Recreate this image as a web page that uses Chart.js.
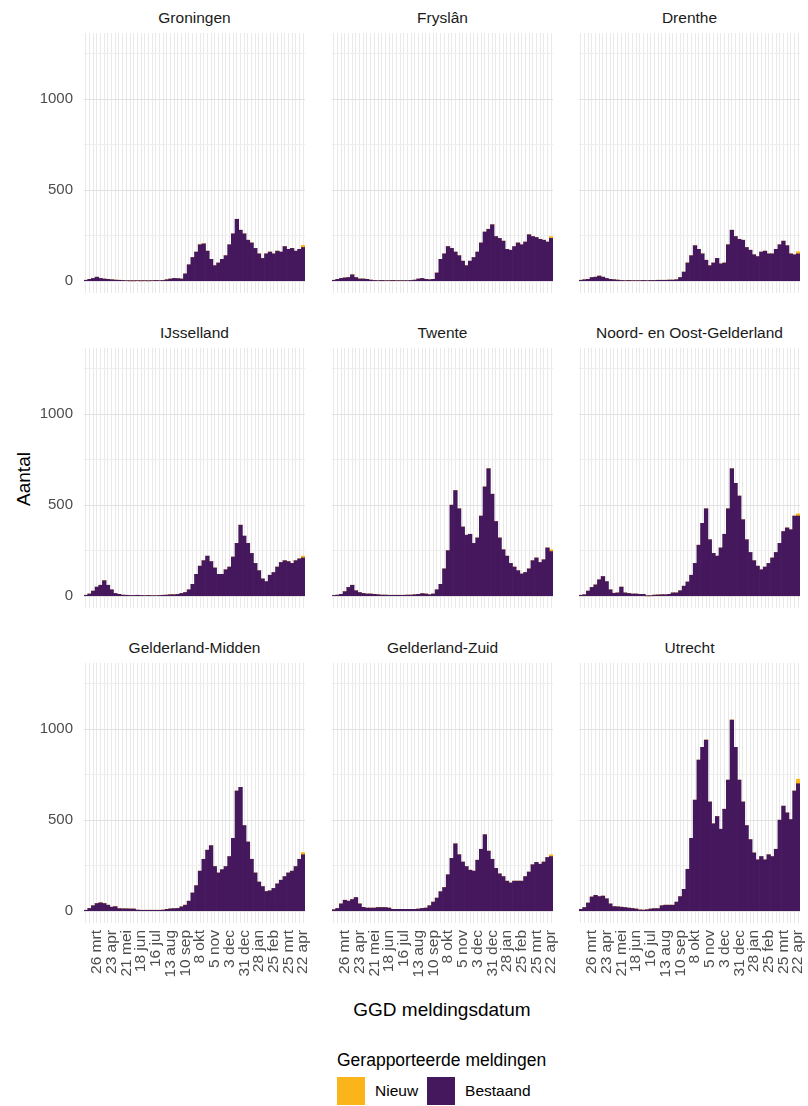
<!DOCTYPE html>
<html>
<head>
<meta charset="utf-8">
<title>Gerapporteerde meldingen per GGD</title>
<script src="https://cdn.jsdelivr.net/npm/chart.js@4.4.1/dist/chart.umd.min.js"></script>
<style>
  body { margin: 0; background: #fff; font-family: "Liberation Sans", Arial, sans-serif; }
  #page { position: relative; width: 808px; height: 1106px; overflow: hidden; }
  canvas { position: absolute; }
  .strip { position: absolute; width: 221px; height: 18px; line-height: 18px; text-align: center; font-size: 15.5px; color: #1a1a1a; white-space: nowrap; }
  #ytitle { position: absolute; left: 23.5px; top: 479px; transform: translate(-50%, -50%) rotate(-90deg); font-size: 19px; white-space: nowrap; color: #000; }
  #xtitle { position: absolute; left: 442px; top: 1010px; transform: translate(-50%, -50%); font-size: 19px; white-space: nowrap; color: #000; }
  #legend { position: absolute; left: 337px; top: 1049px; }
  #legend .titel { font-size: 17.5px; height: 22px; line-height: 22px; margin-bottom: 6px; white-space: nowrap; }
  #legend .rij { display: flex; height: 28px; line-height: 28px; font-size: 15.5px; }
  #legend .vak { width: 28px; height: 28px; }
</style>
</head>
<body>
<div id="page">
  <div id="ytitle">Aantal</div>
  <div id="xtitle">GGD meldingsdatum</div>
  <div id="legend">
    <div class="titel">Gerapporteerde meldingen</div>
    <div class="rij">
      <div class="vak" id="vakNieuw"></div>
      <div style="margin-left:10px">Nieuw</div>
      <div class="vak" id="vakBestaand" style="margin-left:9px"></div>
      <div style="margin-left:10px">Bestaand</div>
    </div>
  </div>
</div>
<script>
console.log("linked");

// weekly values, first week starts 5 mrt 2020
const groningen = [5,10,15,22,15,12,10,8,6,5, 4,3,2,2,3,2,3,2,3,4, 3,4,8,12,15,14,12,40,90,130, 160,200,205,165,120,85,100,120,140,200, 260,340,280,260,225,210,180,150,125,150, 160,150,165,160,190,175,180,165,175,185];
const fryslan = [5,10,15,18,20,35,20,12,12,10, 6,4,3,4,3,3,4,3,3,3, 3,4,6,12,15,10,8,10,45,120, 150,190,180,160,140,110,85,110,130,160, 210,270,285,310,245,235,220,175,170,190, 210,200,215,255,245,240,230,225,215,235];
const drenthe = [5,8,10,20,22,28,22,15,10,8, 6,4,3,4,3,3,3,4,3,4, 4,5,5,5,6,6,8,20,50,100, 140,195,175,150,115,85,100,125,95,100, 200,280,245,230,225,185,170,145,135,160, 165,150,150,175,200,220,195,150,145,150];
const ijsselland = [5,12,28,50,60,85,60,35,15,10, 6,5,4,4,5,4,3,4,3,3, 4,5,6,8,8,10,15,20,35,65, 120,165,195,220,190,155,120,120,145,160, 215,290,390,330,290,235,180,140,95,80, 115,130,160,185,195,190,180,195,205,210];
const twente = [4,6,10,25,48,60,30,20,15,12, 12,10,8,6,6,5,5,5,5,5, 6,6,8,10,14,12,8,12,35,65, 150,250,500,580,480,380,335,340,290,320, 440,600,700,560,410,320,255,220,180,160, 140,122,130,150,195,210,185,200,265,245];
const noordOostGelderland = [5,8,28,48,62,90,108,80,35,16, 18,50,18,15,12,12,10,10,2,2, 6,7,8,8,10,18,18,30,55,78, 115,180,280,400,480,310,235,220,265,340, 480,700,620,550,420,310,240,195,165,145, 160,180,210,240,290,355,375,365,440,440];
const gelderlandMidden = [5,15,30,42,46,42,33,22,25,14, 13,13,12,12,6,5,5,5,5,5, 5,6,10,13,14,15,24,33,55,100, 140,220,285,335,360,245,210,228,245,300, 400,660,680,470,380,285,210,160,135,108, 112,125,150,170,190,210,220,245,285,310];
const gelderlandZuid = [8,15,40,60,55,64,75,40,21,17, 17,17,20,20,20,17,10,10,10,10, 10,10,10,12,15,17,30,50,72,107, 130,200,290,370,310,270,245,225,220,280, 340,420,330,285,235,205,190,165,155,165, 165,165,190,215,255,268,258,270,295,300];
const utrecht = [10,20,45,78,87,80,83,68,40,25, 24,22,20,17,15,12,7,6,8,12, 14,14,30,33,33,33,50,80,120,230, 400,610,830,900,940,600,480,520,450,560, 720,1050,900,720,600,470,393,320,282,300, 282,310,300,340,500,577,540,503,660,700];

// "Nieuw" only shows up in the most recent week
const nieuwLaatsteWeek = [12, 10, 12, 10, 10, 12, 12, 10, 25];

const regioNamen = ["Groningen", "Fryslân", "Drenthe", "IJsselland", "Twente", "Noord- en Oost-Gelderland", "Gelderland-Midden", "Gelderland-Zuid", "Utrecht"];
const regioData = [groningen, fryslan, drenthe, ijsselland, twente, noordOostGelderland, gelderlandMidden, gelderlandZuid, utrecht];

const maanden = ["jan", "feb", "mrt", "apr", "mei", "jun", "jul", "aug", "sep", "okt", "nov", "dec"];
const weken = [];
for (let i = 0; i < groningen.length; i++) {
  const d = new Date(Date.UTC(2020, 2, 5 + 7 * i));
  weken.push(d.getUTCDate() + " " + maanden[d.getUTCMonth()]);
}

const oranje = "#fbb41a";
const paars = "#45175d";
document.getElementById("vakNieuw").style.background = oranje;
document.getElementById("vakBestaand").style.background = paars;

Chart.defaults.font.family = '"Liberation Sans", Arial, sans-serif';

// panel layout (plot areas)
const kolomX = [84, 332, 579];
const rijY = [33, 348, 663];
const paneelB = 221, paneelH = 260;
const yAsB = 50, xAsH = 85, extraRechts = 8;
const page = document.getElementById("page");

for (let i = 0; i < regioNamen.length; i++) {
  const kol = i % 3, rij = Math.floor(i / 3);
  const metY = kol === 0, metX = rij === 2;

  const strip = document.createElement("div");
  strip.className = "strip";
  strip.textContent = regioNamen[i];
  strip.style.left = kolomX[kol] + "px";
  strip.style.top = (rijY[rij] - 24) + "px";
  page.appendChild(strip);

  // bottom row gets a bit of room on the right so "22 apr" is not cut off
  const rechts = metX ? extraRechts : 0;
  const w = paneelB + (metY ? yAsB : 0) + rechts;
  const h = paneelH + (metX ? xAsH : 0);
  const canvas = document.createElement("canvas");
  canvas.width = w;
  canvas.height = h;
  canvas.style.width = w + "px";
  canvas.style.height = h + "px";
  canvas.style.left = (kolomX[kol] - (metY ? yAsB : 0)) + "px";
  canvas.style.top = rijY[rij] + "px";
  page.appendChild(canvas);

  const nieuw = weken.map((wk, k) => (k === weken.length - 1 ? nieuwLaatsteWeek[i] : 0));

  new Chart(canvas, {
    type: "bar",
    data: {
      labels: weken,
      datasets: [
        { label: "Bestaand", data: regioData[i], backgroundColor: paars, borderWidth: 0, barPercentage: 1, categoryPercentage: 1 },
        { label: "Nieuw", data: nieuw, backgroundColor: oranje, borderWidth: 0, barPercentage: 1, categoryPercentage: 1 },
      ],
    },
    options: {
      responsive: false,
      animation: false,
      layout: { padding: { left: 0, top: 0, bottom: 0, right: rechts } },
      plugins: { legend: { display: false }, tooltip: { enabled: false } },
      scales: {
        x: {
          stacked: true,
          grid: { offset: false, color: "#e9e9e9", lineWidth: 1, drawTicks: false },
          border: { display: false },
          ticks: {
            display: metX,
            autoSkip: false,
            minRotation: 90,
            maxRotation: 90,
            padding: 7,
            color: "#4d4d4d",
            font: { size: 15.5 },
            callback: function (v, idx) {
              return idx % 4 === 3 ? this.getLabelForValue(v) : "";
            },
          },
          afterFit: function (s) {
            s.height = metX ? xAsH : 0;
            s.paddingLeft = 0;
            s.paddingRight = 0;
          },
        },
        y: {
          stacked: true,
          min: -65,
          max: 1363,
          grid: {
            color: (ctx) => (ctx.tick && ctx.tick.value % 500 === 0 ? "#e2e2e2" : "#eeeeee"),
            lineWidth: 1,
            drawTicks: false,
          },
          border: { display: false },
          ticks: {
            display: metY,
            stepSize: 250,
            includeBounds: false,
            padding: 11,
            color: "#4d4d4d",
            font: { size: 15 },
            callback: (v) => (v % 500 === 0 ? v : ""),
          },
          afterFit: function (s) {
            s.width = metY ? yAsB : 0;
            s.paddingTop = 0;
            s.paddingBottom = 0;
          },
        },
      },
    },
  });
}
</script>
</body>
</html>
